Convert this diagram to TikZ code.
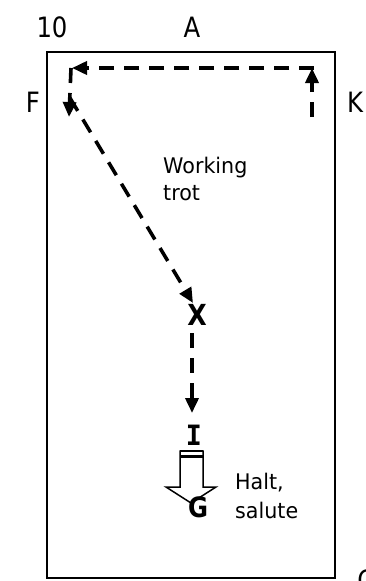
\documentclass[tikz,border=0pt]{standalone}
\usepackage{fontspec}
\setmainfont{DejaVu Sans}[FakeStretch=0.96]
\newfontfamily\bigf{DejaVu Sans}[FakeStretch=0.87]
\newfontfamily\monob{DejaVu Sans Mono}[FakeStretch=0.95]
\usetikzlibrary{arrows.meta}
\newcommand\szbig{\fontsize{28}{32}\selectfont\bigf}
\newcommand\sznote{\fontsize{21.5}{26}\selectfont}
\tikzset{
  route/.style={line width=3.6pt, dash pattern=on 15pt off 10pt, -{Triangle[length=15pt,width=13pt]}},
  big/.style={inner sep=0pt, anchor=base},
  note/.style={inner sep=0pt, anchor=base west},
  halt/.style={line width=1.5pt, fill=white, line join=miter}
}
\begin{document}
\begin{tikzpicture}[x=1pt,y=-1pt]
\useasboundingbox (0,0) rectangle (365,581);
% arena
\draw[line width=1.3pt] (47,52) rectangle (335,578);
% letters
\node[big] (n10) at (52,37) {\szbig 10};
\node[big] (nA) at (192,37) {\szbig A};
\node[big] (nF) at (33,112) {\szbig F};
\node[big] (nK) at (355,112) {\szbig K};
\node[big] (nC) at (366,590) {\szbig C};
% notes
\node[note] (w1) at (163,173) {\sznote Working};
\node[note] (w2) at (163,200) {\sznote trot};
\node[note] (h1) at (235,489) {\sznote Halt,};
\node[note] (h2) at (235,518) {\sznote salute};
% route coordinates
\coordinate (k0) at (312,117);
\coordinate (kc) at (312,68);
\coordinate (kr) at (314,68);
\coordinate (fc) at (72,68);
\coordinate (f0) at (71,68);
\coordinate (f1) at (69,117);
\coordinate (d0) at (70,98);
\coordinate (xt) at (193,303);
\coordinate (x0) at (192,333);
\coordinate (it) at (192,413);
\draw[route] (k0) -- (kc);
\draw[route] (kr) -- (fc);
\draw[route] (f0) -- (f1);
\draw[route] (d0) -- (xt);
\draw[route] (x0) -- (it);
% halt arrow
\draw[halt] (180,451) -- (203,451) -- (203,487) -- (216,487) -- (191,503) -- (166,487) -- (180,487) -- cycle;
\draw[line width=2.2pt] (180,451) -- (203,451);
\draw[line width=2.2pt] (180,456.5) -- (203,456.5);
% bold letters
\node[big] (nX) at (197,325) {\fontsize{29}{32}\selectfont\bigf\bfseries X};
\node[big] (nI) at (194,445) {\fontsize{28}{32}\selectfont\monob\bfseries I};
\node[big] (nG) at (198,517) {\fontsize{28}{32}\selectfont\bigf\bfseries G};
\end{tikzpicture}
\end{document}
